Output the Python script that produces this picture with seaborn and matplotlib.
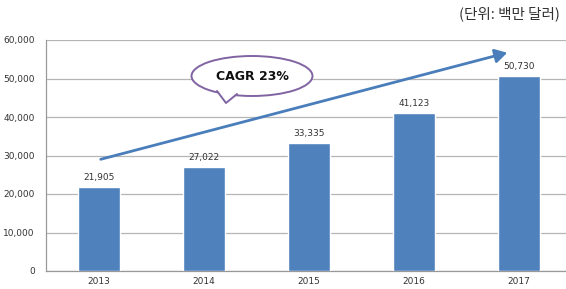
import matplotlib
matplotlib.use("Agg")
import matplotlib.pyplot as plt
import seaborn as sns
import pandas as pd
import numpy as np
from matplotlib.patches import Ellipse, Polygon, FancyArrowPatch
from matplotlib.lines import Line2D

years = ["2013", "2014", "2015", "2016", "2017"]
values = [21905, 27022, 33335, 41123, 50730]
value_labels = ["21,905", "27,022", "33,335", "41,123", "50,730"]
yticks = [0, 10000, 20000, 30000, 40000, 50000, 60000]
ytick_labels = ["0", "10,000", "20,000", "30,000", "40,000", "50,000", "60,000"]
unit_text = "(단위: 백만 달러)"
cagr_text = "CAGR 23%"

sns.set_style("white")
plt.rcParams['font.family'] = ['DejaVu Sans', 'Noto Sans CJK KR']

W, H = 566, 289
fig = plt.figure(figsize=(W / 100, H / 100), dpi=100)
ax = fig.add_axes([46 / W, (H - 271) / H, (W - 46) / W, (271 - 40) / H])

df = pd.DataFrame({"year": years, "value": values})
sns.barplot(data=df, x="year", y="value", color="#4f81bd", saturation=1,
            width=0.4, ax=ax, zorder=3)

ax.set_xlim(-0.505, 4.448)
ax.set_ylim(0, 60000)
ax.set_yticks(yticks)
ax.set_yticklabels(ytick_labels, fontsize=6.5, color="#333333")
ax.set_xticks(range(len(years)))
ax.set_xticklabels(years, fontsize=6.5, color="#333333")
ax.set_xlabel("")
ax.set_ylabel("")
ax.tick_params(axis="x", length=0, pad=4)
ax.set_xticks([0.5, 1.5, 2.5, 3.5], minor=True)
ax.tick_params(axis="x", which="minor", length=3, color="#888888")
ax.tick_params(axis="y", length=5, color="#888888", pad=3)

ax.yaxis.grid(True, color="#b5b5b5", linewidth=0.9, zorder=0)
ax.set_axisbelow(True)
for s in ["top", "right"]:
    ax.spines[s].set_visible(False)
ax.spines["left"].set_color("#999999")
ax.spines["bottom"].set_color("#999999")
ax.spines["left"].set_linewidth(0.9)
ax.spines["bottom"].set_linewidth(0.9)

for i, (v, lab) in enumerate(zip(values, value_labels)):
    ax.text(i, v + 1200, lab, ha="center", va="bottom", fontsize=6.5, color="#333333")

# helpers pixel -> data
def px(xp, yp):
    return ((xp - 99) / 105.0, (271 - yp) / 231.0 * 60000)

# arrow
x0, y0 = px(98, 160)
x1, y1 = px(510, 52)
arr = FancyArrowPatch((x0, y0), (x1, y1), arrowstyle="-|>,head_length=4.5,head_width=2.6",
                      color="#4a7ebb", linewidth=2.0, mutation_scale=1.6, zorder=5)
ax.add_patch(arr)

# speech bubble
cx, cy = px(252, 76)
ell = Ellipse((cx, cy), width=121 / 105.0, height=40 / 231.0 * 60000,
              facecolor="white", edgecolor="#8064a2", linewidth=1.4, zorder=6)
ax.add_patch(ell)
pA = px(217, 91)
pB = px(226, 103)
pC = px(237, 94)
tri = Polygon([pA, pB, pC], closed=True, facecolor="white", edgecolor="none", zorder=7)
ax.add_patch(tri)
ax.add_line(Line2D([pA[0], pB[0], pC[0]], [pA[1], pB[1], pC[1]], color="#8064a2",
                   linewidth=1.4, zorder=8))
ax.text(cx, cy, cagr_text, ha="center", va="center", fontsize=9, fontweight="bold",
        color="#111111", zorder=9)

fig.text(560 / W, 1 - 14 / H, unit_text, ha="right", va="center", fontsize=10.5,
         color="#333333", family=['Noto Sans CJK KR', 'DejaVu Sans'])

fig.savefig("out.png", dpi=100)
